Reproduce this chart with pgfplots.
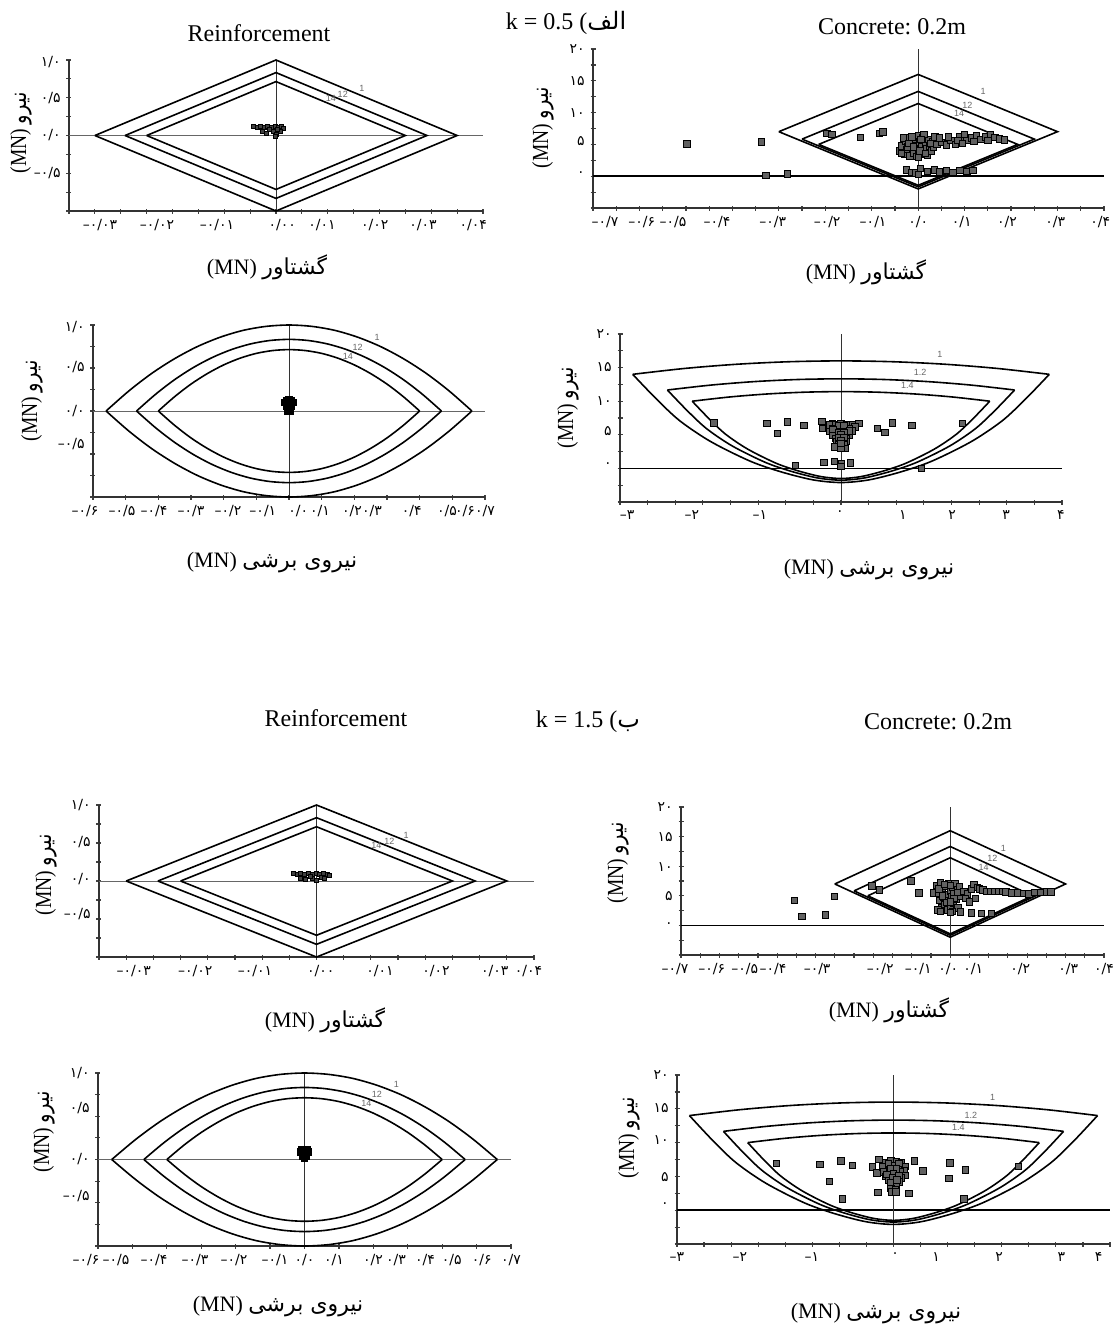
\documentclass[border=0pt]{standalone}
\usepackage{graphicx}
\usepackage{pgfplots}
\pgfplotsset{compat=1.18}
\usepackage{fontspec}
\setmainfont{Liberation Serif}
\newfontfamily\fa[Script=Arabic]{DejaVu Sans}
\newfontfamily\fadig{DejaVu Sans}
\newfontfamily\tinysans{Liberation Sans}
\TeXXeTstate=1
\frenchspacing

\tikzset{fsl/.style={font=\tinysans\fontsize{4.5}{5}\selectfont, text=black!60, inner sep=0pt}}
\pgfplotsset{
  panel/.style={
    scale only axis, anchor=south west,
    axis lines=left,
    axis line style={draw=black!80, line width=0.8pt, -},
    clip=false,
    scaled ticks=false,
    major tick length=0pt,
    minor tick length=2.5pt,
    tick align=center,
    minor tick style={draw=black!75, line width=0.6pt},
    xticklabel style={font=\fadig\fontsize{7}{8}\selectfont, inner sep=0pt, yshift=-4pt},
    yticklabel style={font=\fadig\fontsize{7}{8}\selectfont, inner sep=0pt, xshift=-4pt},
  },
  cap/.style={line width=0.8pt, black},
  zero/.style={line width=0.4pt, black!60},
  zerob/.style={line width=0.9pt, black},
  pts/.style={only marks, mark=square*, mark size=1.6pt, mark options={fill=black!62, draw=black, line width=0.35pt}},
  ptss/.style={only marks, mark=square*, mark size=1pt, mark options={fill=black!75, draw=black, line width=0.3pt}},
}

\begin{document}
\begin{tikzpicture}
\useasboundingbox (0,0) rectangle (556.5pt,-664.5pt);

% ---------------- Panel A: k=0.5, reinforcement, moment ----------------
\begin{axis}[panel, at={(34.5pt,-105.5pt)}, width=207pt, height=75.5pt,
  xmin=-0.04, xmax=0.04, ymin=-1, ymax=1,
  xtick={-0.0340,-0.0230,-0.0114,0.0012,0.0089,0.0191,0.0284,0.0381},
  xticklabels={–۰/۰۳,–۰/۰۲,–۰/۰۱,۰/۰۰,۰/۰۱,۰/۰۲,۰/۰۳,۰/۰۴},
  ytick={0.97,0.5,0,-0.5}, yticklabels={۱/۰,۰/۵,۰/۰,–۰/۵},
  minor xtick={-0.04,-0.035,...,0.0401}, minor ytick={-1,-0.75,...,1.01}]
\addplot[zero] coordinates {(-0.04,0) (0.04,0)};
\addplot[zero, black!80] coordinates {(0,-1) (0,1)};
\addplot[cap] coordinates {(-0.035,0) (0,1) (0.035,0) (0,-1) (-0.035,0)};
\addplot[cap] coordinates {(-0.02917,0) (0,0.8333) (0.02917,0) (0,-0.8333) (-0.02917,0)};
\addplot[cap] coordinates {(-0.025,0) (0,0.7143) (0.025,0) (0,-0.7143) (-0.025,0)};
\addplot[ptss] coordinates {(-0.0044,0.12) (-0.0037,0.11) (-0.0030,0.12) (-0.0023,0.11) (-0.0016,0.12) (-0.0009,0.11) (-0.0002,0.12) (0.0005,0.11) (0.0011,0.12) (0.0015,0.10) (-0.0027,0.05) (-0.0018,0.03) (-0.0006,0.05) (0.0001,0.02) (0.0008,0.06) (-0.0012,0.08) (0.0003,0.08) (-0.0001,-0.01)};
\node[fsl] at (axis cs:0.0166,0.63) {1};
\node[fsl] at (axis cs:0.0129,0.55) {12};
\node[fsl] at (axis cs:0.0106,0.49) {14};
\end{axis}

% ---------------- Panel B: k=0.5, concrete, moment ----------------
\begin{axis}[panel, at={(296.5pt,-104pt)}, width=255.5pt, height=79.5pt,
  xmin=-0.7, xmax=0.4, ymin=-5, ymax=20,
  xtick={-0.674,-0.595,-0.528,-0.433,-0.313,-0.196,-0.097,0,0.094,0.191,0.295,0.392},
  xticklabels={–۰/۷,–۰/۶,–۰/۵,–۰/۴,–۰/۳,–۰/۲,–۰/۱,۰/۰,۰/۱,۰/۲,۰/۳,۰/۴},
  ytick={20,15,10,5.6,0.3}, yticklabels={۲۰,۱۵,۱۰,۵,۰},
  minor xtick={-0.7,-0.65,...,0.401}, minor ytick={-5,-2.5,...,20.1}]
\addplot[zerob] coordinates {(-0.7,0) (0.4,0)};
\addplot[zero, black!80] coordinates {(0,-5) (0,20)};
\addplot[cap] coordinates {(-0.3,7) (0,16) (0.3,7) (0,-2) (-0.3,7)};
\addplot[cap] coordinates {(-0.25,5.833) (0,13.333) (0.25,5.833) (0,-1.667) (-0.25,5.833)};
\addplot[cap] coordinates {(-0.2143,5) (0,11.429) (0.2143,5) (0,-1.429) (-0.2143,5)};
\addplot[pts] coordinates {
(-0.498,5.1) (-0.337,5.4) (-0.328,0.1) (-0.281,0.4) (-0.197,6.7) (-0.186,6.6) (-0.125,6.1) (-0.083,6.7) (-0.076,7.0)
(-0.040,4.0) (-0.035,4.8) (-0.030,3.5) (-0.028,5.5) (-0.025,4.2) (-0.020,6.0) (-0.018,3.2) (-0.015,5.0) (-0.012,4.4) (-0.010,3.7) (-0.008,5.8) (-0.005,4.8) (-0.003,3.1) (0.0,6.4) (0.0,4.2) (0.003,5.3) (0.005,3.5) (0.008,4.6) (0.010,6.0) (0.012,3.9) (0.015,5.2) (0.018,4.4) (0.020,3.3) (0.022,5.8) (0.025,4.8) (0.028,4.0) (0.030,5.5) (0.033,4.5) (0.036,6.2) (0.040,5.0) (-0.032,6.0) (0.0,3.0) (0.012,6.6) (-0.022,4.6)
(-0.036,3.6) (-0.02,5.2) (-0.01,4.6) (0.004,4.0) (0.016,3.6) (0.026,5.2) (-0.014,6.2) (0.006,5.8)
(0.05,5.3) (0.06,4.9) (0.07,5.6) (0.08,5.0) (0.09,6.2) (0.10,6.6) (0.105,5.6) (0.115,6.0) (0.125,6.4) (0.135,5.8) (0.145,6.2) (0.155,6.5) (0.165,6.1) (0.175,5.9) (0.185,5.7) (0.065,6.2) (0.085,5.6) (0.045,6.0) (0.095,5.2) (0.12,5.5) (0.15,5.6)
(-0.026,1.0) (-0.015,0.6) (-0.005,0.5) (0.005,1.2) (0.02,0.8) (0.035,1.0) (0.06,0.9) (0.075,0.6) (0.09,0.9) (0.105,0.8) (0.118,0.9) (0.0,0.3) (0.045,0.7)};
\node[fsl] at (axis cs:0.14,13.3) {1};
\node[fsl] at (axis cs:0.106,11.2) {12};
\node[fsl] at (axis cs:0.088,9.8) {14};
\end{axis}

% ---------------- Panel C: k=0.5, reinforcement, shear ----------------
\begin{axis}[panel, at={(46.5pt,-248.5pt)}, width=196pt, height=86pt,
  xmin=-0.6, xmax=0.6, ymin=-1, ymax=1,
  xtick={-0.511,-0.413,-0.300,-0.187,-0.080,0.028,0.095,0.193,0.254,0.376,0.484,0.539,0.6},
  xticklabels={–۰/۵,–۰/۴,–۰/۳,–۰/۲,–۰/۱,۰/۰,۰/۱,۰/۲,۰/۳,۰/۴,۰/۵,۰/۶,۰/۷},
  extra x ticks={-0.6}, extra x tick labels={–۰/۶}, extra x tick style={xticklabel style={xshift=-4pt}},
  ytick={0.98,0.51,0,-0.38}, yticklabels={۱/۰,۰/۵,۰/۰,–۰/۵},
  minor xtick={-0.6,-0.5,...,0.61}, minor ytick={-1,-0.75,...,1.01}]
\addplot[zero] coordinates {(-0.6,0) (0.6,0)};
\addplot[zero, black!80] coordinates {(0,-1) (0,1)};
\addplot[cap, smooth] coordinates {(-0.56,0) (-0.49,0.234) (-0.42,0.438) (-0.35,0.609) (-0.28,0.75) (-0.21,0.859) (-0.14,0.938) (-0.07,0.984) (0,1) (0.07,0.984) (0.14,0.938) (0.21,0.859) (0.28,0.75) (0.35,0.609) (0.42,0.438) (0.49,0.234) (0.56,0)};
\addplot[cap, smooth] coordinates {(-0.56,0) (-0.49,-0.234) (-0.42,-0.438) (-0.35,-0.609) (-0.28,-0.75) (-0.21,-0.859) (-0.14,-0.938) (-0.07,-0.984) (0,-1) (0.07,-0.984) (0.14,-0.938) (0.21,-0.859) (0.28,-0.75) (0.35,-0.609) (0.42,-0.438) (0.49,-0.234) (0.56,0)};
\addplot[cap, smooth] coordinates {(-0.4667,0) (-0.4083,0.195) (-0.35,0.365) (-0.2917,0.508) (-0.2333,0.625) (-0.175,0.716) (-0.1167,0.781) (-0.0583,0.820) (0,0.833) (0.0583,0.820) (0.1167,0.781) (0.175,0.716) (0.2333,0.625) (0.2917,0.508) (0.35,0.365) (0.4083,0.195) (0.4667,0)};
\addplot[cap, smooth] coordinates {(-0.4667,0) (-0.4083,-0.195) (-0.35,-0.365) (-0.2917,-0.508) (-0.2333,-0.625) (-0.175,-0.716) (-0.1167,-0.781) (-0.0583,-0.820) (0,-0.833) (0.0583,-0.820) (0.1167,-0.781) (0.175,-0.716) (0.2333,-0.625) (0.2917,-0.508) (0.35,-0.365) (0.4083,-0.195) (0.4667,0)};
\addplot[cap, smooth] coordinates {(-0.4,0) (-0.35,0.167) (-0.3,0.313) (-0.25,0.435) (-0.2,0.536) (-0.15,0.614) (-0.1,0.670) (-0.05,0.703) (0,0.714) (0.05,0.703) (0.1,0.670) (0.15,0.614) (0.2,0.536) (0.25,0.435) (0.3,0.313) (0.35,0.167) (0.4,0)};
\addplot[cap, smooth] coordinates {(-0.4,0) (-0.35,-0.167) (-0.3,-0.313) (-0.25,-0.435) (-0.2,-0.536) (-0.15,-0.614) (-0.1,-0.670) (-0.05,-0.703) (0,-0.714) (0.05,-0.703) (0.1,-0.670) (0.15,-0.614) (0.2,-0.536) (0.25,-0.435) (0.3,-0.313) (0.35,-0.167) (0.4,0)};
\addplot[pts, mark options={fill=black}] coordinates {(0,0.13) (-0.008,0.12) (0.008,0.12) (-0.012,0.10) (0.012,0.10) (0,0.09) (-0.006,0.06) (0.006,0.06) (0,0.03) (0.005,0.0) (-0.005,0.0)};
\node[fsl] at (axis cs:0.27,0.86) {1};
\node[fsl] at (axis cs:0.21,0.74) {12};
\node[fsl] at (axis cs:0.18,0.64) {14};
\end{axis}

% ---------------- Panel D: k=0.5, concrete, shear ----------------
\begin{axis}[panel, at={(310pt,-251pt)}, width=221pt, height=84pt,
  xmin=-4, xmax=4, ymin=-5, ymax=20,
  xtick={-3.87,-2.70,-1.47,-0.02,1.12,2.01,2.99,3.98},
  xticklabels={–۳,–۲,–۱,۰,۱,۲,۳,۴},
  ytick={20,15.1,10,5.5,0.45}, yticklabels={۲۰,۱۵,۱۰,۵,۰},
  minor xtick={-4,-3.5,...,4.01}, minor ytick={-5,-2.5,...,20.1}]
\addplot[zerob] coordinates {(-4,0) (4,0)};
\addplot[zero, black!80] coordinates {(0,-5) (0,20)};
\addplot[cap, smooth] coordinates {(-3.77,14) (-2.83,14.875) (-1.885,15.5) (-0.94,15.875) (0,16) (0.94,15.875) (1.885,15.5) (2.83,14.875) (3.77,14)};
\addplot[cap, smooth] coordinates {(-3.77,14.0) (-3.35,10.4) (-2.92,7.1) (-2.36,4.0) (-1.65,1.1) (-1.09,-0.5) (-0.51,-1.7) (0,-2.1) (0.51,-1.7) (1.09,-0.5) (1.65,1.1) (2.36,4.0) (2.92,7.1) (3.35,10.4) (3.77,14.0)};
\addplot[cap, smooth] coordinates {(-3.142,11.667) (-2.358,12.396) (-1.571,12.917) (-0.783,13.229) (0,13.333) (0.783,13.229) (1.571,12.917) (2.358,12.396) (3.142,11.667)};
\addplot[cap, smooth] coordinates {(-3.142,11.667) (-2.792,8.667) (-2.433,5.917) (-1.967,3.333) (-1.375,0.917) (-0.908,-0.417) (-0.425,-1.417) (0,-1.75) (0.425,-1.417) (0.908,-0.417) (1.375,0.917) (1.967,3.333) (2.433,5.917) (2.792,8.667) (3.142,11.667)};
\addplot[cap, smooth] coordinates {(-2.693,10) (-2.021,10.625) (-1.346,11.071) (-0.671,11.339) (0,11.429) (0.671,11.339) (1.346,11.071) (2.021,10.625) (2.693,10)};
\addplot[cap, smooth] coordinates {(-2.693,10) (-2.393,7.429) (-2.086,5.071) (-1.686,2.857) (-1.179,0.786) (-0.779,-0.357) (-0.364,-1.214) (0,-1.5) (0.364,-1.214) (0.779,-0.357) (1.179,0.786) (1.686,2.857) (2.086,5.071) (2.393,7.429) (2.693,10)};
\addplot[pts] coordinates {
(-2.30,6.8) (-1.34,6.7) (-1.15,5.2) (-0.97,6.9) (-0.67,6.4) (-0.35,7.0) (-0.34,6.0) (-0.16,6.7) (-0.83,0.45) (-0.31,0.94) (-0.12,1.09) (0.17,0.8) (0.01,0.7) (0.32,6.7) (0.66,6.0) (0.79,5.4) (0.93,6.8) (1.28,6.4) (2.2,6.7) (1.45,0.05) (0.0,0.3)
(-0.2,6.5) (-0.1,6.6) (0.0,6.7) (0.1,6.6) (0.2,6.5) (0.25,6.2) (-0.15,6.0) (-0.05,6.1) (0.05,6.0) (0.15,6.0) (-0.2,5.5) (-0.1,5.5) (0.0,5.5) (0.1,5.5) (0.2,5.6) (-0.15,5.0) (-0.05,5.0) (0.05,5.0) (0.15,5.0) (-0.1,4.5) (0.0,4.5) (0.1,4.5) (-0.08,4.0) (0.02,4.0) (0.1,4.0) (-0.05,3.5) (0.05,3.5) (-0.12,3.2) (0.08,3.0) (0.0,3.0)
(-0.05,6.4) (0.05,6.4) (-0.15,5.8) (0.15,5.6) (-0.05,5.4) (0.05,5.4) (0.0,5.0) (-0.05,4.6) (0.05,4.6) (0.0,4.2) (0.0,3.7)};
\node[fsl] at (axis cs:1.79,16.9) {1};
\node[fsl] at (axis cs:1.43,14.3) {1.2};
\node[fsl] at (axis cs:1.2,12.4) {1.4};
\end{axis}

% ---------------- Panel E: k=1.5, reinforcement, moment ----------------
\begin{axis}[panel, at={(49.5pt,-478.5pt)}, width=217.5pt, height=76pt,
  xmin=-0.04, xmax=0.04, ymin=-1, ymax=1,
  xtick={-0.0336,-0.0223,-0.0113,0.0008,0.0117,0.0220,0.0328,0.0390},
  xticklabels={–۰/۰۳,–۰/۰۲,–۰/۰۱,۰/۰۰,۰/۰۱,۰/۰۲,۰/۰۳,۰/۰۴},
  ytick={1,0.51,0.02,-0.43}, yticklabels={۱/۰,۰/۵,۰/۰,–۰/۵},
  minor xtick={-0.04,-0.035,...,0.0401}, minor ytick={-1,-0.75,...,1.01}]
\addplot[zero] coordinates {(-0.04,0) (0.04,0)};
\addplot[zero, black!80] coordinates {(0,-1) (0,1)};
\addplot[cap] coordinates {(-0.035,0) (0,1) (0.035,0) (0,-1) (-0.035,0)};
\addplot[cap] coordinates {(-0.02917,0) (0,0.8333) (0.02917,0) (0,-0.8333) (-0.02917,0)};
\addplot[cap] coordinates {(-0.025,0) (0,0.7143) (0.025,0) (0,-0.7143) (-0.025,0)};
\addplot[ptss] coordinates {(-0.0043,0.10) (-0.0036,0.09) (-0.0029,0.10) (-0.0022,0.09) (-0.0015,0.10) (-0.0008,0.09) (-0.0001,0.10) (0.0006,0.09) (0.0013,0.10) (0.0020,0.09) (0.0023,0.08) (-0.0030,0.04) (-0.0020,0.02) (-0.0008,0.04) (0.0,0.01) (0.0008,0.05) (0.0015,0.03) (-0.0012,0.06)};
\node[fsl] at (axis cs:0.0165,0.60) {1};
\node[fsl] at (axis cs:0.0134,0.52) {12};
\node[fsl] at (axis cs:0.0110,0.47) {14};
\end{axis}

% ---------------- Panel F: k=1.5, concrete, moment ----------------
\begin{axis}[panel, at={(340.5pt,-477.5pt)}, width=211.5pt, height=74pt,
  xmin=-0.7, xmax=0.4, ymin=-5, ymax=20,
  xtick={-0.620,-0.534,-0.461,-0.346,-0.182,-0.083,-0.005,0.060,0.182,0.307,0.4},
  xticklabels={–۰/۶,–۰/۵,–۰/۴,–۰/۳,–۰/۲,–۰/۱,۰/۰,۰/۱,۰/۲,۰/۳,۰/۴},
  extra x ticks={-0.7}, extra x tick labels={–۰/۷}, extra x tick style={xticklabel style={xshift=-3pt}},
  ytick={20,14.9,9.8,4.9,0}, yticklabels={۲۰,۱۵,۱۰,۵,۰},
  minor xtick={-0.7,-0.65,...,0.401}, minor ytick={-5,-2.5,...,20.1}]
\addplot[zerob] coordinates {(-0.7,0) (0.4,0)};
\addplot[zero, black!80] coordinates {(0,-5) (0,20)};
\addplot[cap] coordinates {(-0.3,7) (0,16) (0.3,7) (0,-2) (-0.3,7)};
\addplot[cap] coordinates {(-0.25,5.833) (0,13.333) (0.25,5.833) (0,-1.667) (-0.25,5.833)};
\addplot[cap] coordinates {(-0.2143,5) (0,11.429) (0.2143,5) (0,-1.429) (-0.2143,5)};
\addplot[pts] coordinates {
(-0.406,4.2) (-0.386,1.5) (-0.325,1.8) (-0.301,4.9) (-0.204,6.7) (-0.184,6.0) (-0.102,7.5) (-0.082,5.5) (-0.043,5.5)
(-0.035,6.8) (-0.03,5.5) (-0.028,4.2) (-0.025,7.2) (-0.022,3.0) (-0.02,6.0) (-0.018,4.8) (-0.015,3.6) (-0.012,6.6) (-0.01,5.2) (-0.008,2.6) (-0.005,4.2) (-0.003,7.0) (0.0,5.8) (0.0,3.2) (0.003,4.8) (0.005,6.4) (0.008,3.8) (0.01,5.4) (0.012,7.0) (0.015,4.4) (0.018,6.0) (0.02,3.0) (0.022,5.0) (0.024,6.6) (-0.032,2.6) (0.006,2.4)
(-0.03,6.2) (-0.02,5.0) (-0.01,3.9) (0.0,6.8) (0.01,4.6) (0.02,5.6) (-0.015,6.9) (0.0,4.0)
(0.035,5.8) (0.045,5.3) (0.055,6.2) (0.062,6.9) (0.070,6.4) (0.076,6.2) (0.085,6.0) (0.095,5.8) (0.105,5.8) (0.115,5.8) (0.125,5.8) (0.135,5.8) (0.145,5.7) (0.16,5.5) (0.175,5.5) (0.19,5.4) (0.205,5.3) (0.22,5.6) (0.235,5.6) (0.25,5.7) (0.262,5.7) (0.04,4.6) (0.05,4.0) (0.065,4.6)
(-0.026,2.4) (0.0,2.2) (0.026,2.3) (0.055,2.1) (0.081,2.0) (0.107,2.0)};
\node[fsl] at (axis cs:0.138,13.0) {1};
\node[fsl] at (axis cs:0.11,11.4) {12};
\node[fsl] at (axis cs:0.087,9.8) {14};
\end{axis}

% ---------------- Panel G: k=1.5, reinforcement, shear ----------------
\begin{axis}[panel, at={(49pt,-623pt)}, width=206.5pt, height=86.5pt,
  xmin=-0.6, xmax=0.6, ymin=-1, ymax=1,
  xtick={-0.548,-0.437,-0.318,-0.205,-0.086,0.0,0.086,0.199,0.266,0.350,0.428,0.515,0.6},
  xticklabels={–۰/۵,–۰/۴,–۰/۳,–۰/۲,–۰/۱,۰/۰,۰/۱,۰/۲,۰/۳,۰/۴,۰/۵,۰/۶,۰/۷},
  extra x ticks={-0.6}, extra x tick labels={–۰/۶}, extra x tick style={xticklabel style={xshift=-6pt}},
  ytick={1,0.59,0,-0.42}, yticklabels={۱/۰,۰/۵,۰/۰,–۰/۵},
  minor xtick={-0.6,-0.5,...,0.61}, minor ytick={-1,-0.75,...,1.01}]
\addplot[zero] coordinates {(-0.6,0) (0.6,0)};
\addplot[zero, black!80] coordinates {(0,-1) (0,1)};
\addplot[cap, smooth] coordinates {(-0.56,0) (-0.49,0.234) (-0.42,0.438) (-0.35,0.609) (-0.28,0.75) (-0.21,0.859) (-0.14,0.938) (-0.07,0.984) (0,1) (0.07,0.984) (0.14,0.938) (0.21,0.859) (0.28,0.75) (0.35,0.609) (0.42,0.438) (0.49,0.234) (0.56,0)};
\addplot[cap, smooth] coordinates {(-0.56,0) (-0.49,-0.234) (-0.42,-0.438) (-0.35,-0.609) (-0.28,-0.75) (-0.21,-0.859) (-0.14,-0.938) (-0.07,-0.984) (0,-1) (0.07,-0.984) (0.14,-0.938) (0.21,-0.859) (0.28,-0.75) (0.35,-0.609) (0.42,-0.438) (0.49,-0.234) (0.56,0)};
\addplot[cap, smooth] coordinates {(-0.4667,0) (-0.4083,0.195) (-0.35,0.365) (-0.2917,0.508) (-0.2333,0.625) (-0.175,0.716) (-0.1167,0.781) (-0.0583,0.820) (0,0.833) (0.0583,0.820) (0.1167,0.781) (0.175,0.716) (0.2333,0.625) (0.2917,0.508) (0.35,0.365) (0.4083,0.195) (0.4667,0)};
\addplot[cap, smooth] coordinates {(-0.4667,0) (-0.4083,-0.195) (-0.35,-0.365) (-0.2917,-0.508) (-0.2333,-0.625) (-0.175,-0.716) (-0.1167,-0.781) (-0.0583,-0.820) (0,-0.833) (0.0583,-0.820) (0.1167,-0.781) (0.175,-0.716) (0.2333,-0.625) (0.2917,-0.508) (0.35,-0.365) (0.4083,-0.195) (0.4667,0)};
\addplot[cap, smooth] coordinates {(-0.4,0) (-0.35,0.167) (-0.3,0.313) (-0.25,0.435) (-0.2,0.536) (-0.15,0.614) (-0.1,0.670) (-0.05,0.703) (0,0.714) (0.05,0.703) (0.1,0.670) (0.15,0.614) (0.2,0.536) (0.25,0.435) (0.3,0.313) (0.35,0.167) (0.4,0)};
\addplot[cap, smooth] coordinates {(-0.4,0) (-0.35,-0.167) (-0.3,-0.313) (-0.25,-0.435) (-0.2,-0.536) (-0.15,-0.614) (-0.1,-0.670) (-0.05,-0.703) (0,-0.714) (0.05,-0.703) (0.1,-0.670) (0.15,-0.614) (0.2,-0.536) (0.25,-0.435) (0.3,-0.313) (0.35,-0.167) (0.4,0)};
\addplot[pts, mark options={fill=black}] coordinates {(0,0.11) (-0.008,0.11) (0.008,0.11) (-0.012,0.09) (0.012,0.09) (0,0.07) (-0.005,0.04) (0.005,0.04) (0,0.01)};
\node[fsl] at (axis cs:0.267,0.87) {1};
\node[fsl] at (axis cs:0.21,0.75) {12};
\node[fsl] at (axis cs:0.18,0.65) {14};
\end{axis}

% ---------------- Panel H: k=1.5, concrete, shear ----------------
\begin{axis}[panel, at={(338.5pt,-622pt)}, width=216.5pt, height=84.5pt,
  xmin=-4, xmax=4, ymin=-5, ymax=20,
  xtick={-4,-2.84,-1.51,0.03,0.79,1.95,3.10,3.79},
  xticklabels={–۳,–۲,–۱,۰,۱,۲,۳,۴},
  ytick={20,15.1,10.4,4.9,0.7}, yticklabels={۲۰,۱۵,۱۰,۵,۰},
  minor xtick={-4,-3.5,...,4.01}, minor ytick={-5,-2.5,...,20.1}]
\addplot[zerob] coordinates {(-4,0) (4,0)};
\addplot[zero, black!80] coordinates {(0,-5) (0,20)};
\addplot[cap, smooth] coordinates {(-3.77,14) (-2.83,14.875) (-1.885,15.5) (-0.94,15.875) (0,16) (0.94,15.875) (1.885,15.5) (2.83,14.875) (3.77,14)};
\addplot[cap, smooth] coordinates {(-3.77,14.0) (-3.35,10.4) (-2.92,7.1) (-2.36,4.0) (-1.65,1.1) (-1.09,-0.5) (-0.51,-1.7) (0,-2.1) (0.51,-1.7) (1.09,-0.5) (1.65,1.1) (2.36,4.0) (2.92,7.1) (3.35,10.4) (3.77,14.0)};
\addplot[cap, smooth] coordinates {(-3.142,11.667) (-2.358,12.396) (-1.571,12.917) (-0.783,13.229) (0,13.333) (0.783,13.229) (1.571,12.917) (2.358,12.396) (3.142,11.667)};
\addplot[cap, smooth] coordinates {(-3.142,11.667) (-2.792,8.667) (-2.433,5.917) (-1.967,3.333) (-1.375,0.917) (-0.908,-0.417) (-0.425,-1.417) (0,-1.75) (0.425,-1.417) (0.908,-0.417) (1.375,0.917) (1.967,3.333) (2.433,5.917) (2.792,8.667) (3.142,11.667)};
\addplot[cap, smooth] coordinates {(-2.693,10) (-2.021,10.625) (-1.346,11.071) (-0.671,11.339) (0,11.429) (0.671,11.339) (1.346,11.071) (2.021,10.625) (2.693,10)};
\addplot[cap, smooth] coordinates {(-2.693,10) (-2.393,7.429) (-2.086,5.071) (-1.686,2.857) (-1.179,0.786) (-0.779,-0.357) (-0.364,-1.214) (0,-1.5) (0.364,-1.214) (0.779,-0.357) (1.179,0.786) (1.686,2.857) (2.086,5.071) (2.393,7.429) (2.693,10)};
\addplot[pts] coordinates {
(-2.17,6.9) (-1.36,6.8) (-1.18,4.3) (-0.97,7.3) (-0.76,6.6) (-0.95,1.7) (-0.39,6.4) (-0.31,5.5) (-0.27,7.5) (-0.29,2.6) (0.28,2.5) (0.38,7.3) (0.54,5.8) (1.04,7.0) (1.02,4.7) (1.33,6.0) (1.30,1.7) (2.31,6.5)
(-0.15,7.0) (-0.05,7.3) (0.05,7.2) (0.15,7.0) (0.22,6.5) (-0.2,6.4) (-0.1,6.5) (0.0,6.6) (0.1,6.4) (0.2,5.8) (-0.18,5.7) (-0.08,5.8) (0.02,5.9) (0.12,5.7) (0.22,5.2) (-0.15,5.0) (-0.05,5.1) (0.05,5.0) (0.15,4.8) (-0.1,4.4) (0.0,4.4) (0.1,4.2) (-0.05,3.8) (0.05,3.7) (-0.05,3.2) (0.03,3.0) (-0.04,2.7) (0.04,2.7)
(-0.1,6.9) (0.1,6.9) (-0.05,6.2) (0.05,6.1) (-0.12,5.3) (0.0,5.4) (0.1,5.2) (-0.02,4.8) (0.06,4.5) (-0.06,4.1)};
\node[fsl] at (axis cs:1.83,16.7) {1};
\node[fsl] at (axis cs:1.43,14.1) {1.2};
\node[fsl] at (axis cs:1.2,12.3) {1.4};
\end{axis}

% ---------------- Titles and axis labels ----------------
\begin{scope}[x=0.5pt,y=-0.5pt]
\tikzset{ttl/.style={font=\fontsize{12}{14}\selectfont, inner sep=0pt},
         xl/.style={font=\fontsize{11}{13}\selectfont, inner sep=0pt},
         yl/.style={font=\fontsize{11.5}{13}\selectfont, inner sep=0pt, rotate=90}}
\node[ttl] at (259,33) {Reinforcement};
\node[ttl] at (566,23) {k = 0.5 ({\fa\beginR الف\endR}};
\node[ttl] at (892,27) {Concrete: 0.2m};
\node[ttl] at (336,718) {Reinforcement};
\node[ttl] at (588,722) {k = 1.5 ({\fa\beginR ب\endR}};
\node[ttl] at (938,722) {Concrete: 0.2m};

\node[xl] at (267,267) {(MN)\ {\fa\beginR گشتاور\endR}};
\node[xl] at (866,272) {(MN)\ {\fa\beginR گشتاور\endR}};
\node[xl] at (272,563) {(MN)\ {\fa\beginR نیروی برشی\endR}};
\node[xl] at (869,570) {(MN)\ {\fa\beginR نیروی برشی\endR}};
\node[xl] at (325,1020) {(MN)\ {\fa\beginR گشتاور\endR}};
\node[xl] at (889,1010) {(MN)\ {\fa\beginR گشتاور\endR}};
\node[xl] at (278,1307) {(MN)\ {\fa\beginR نیروی برشی\endR}};
\node[xl] at (876,1314) {(MN)\ {\fa\beginR نیروی برشی\endR}};

\node[yl] at (21,133) {\scalebox{0.85}[1]{(MN)\ {\fa\beginR نیرو\endR}}};
\node[yl] at (543,128) {\scalebox{0.85}[1]{(MN)\ {\fa\beginR نیرو\endR}}};
\node[yl] at (32,401) {\scalebox{0.85}[1]{(MN)\ {\fa\beginR نیرو\endR}}};
\node[yl] at (568,408) {\scalebox{0.85}[1]{(MN)\ {\fa\beginR نیرو\endR}}};
\node[yl] at (46,875) {\scalebox{0.85}[1]{(MN)\ {\fa\beginR نیرو\endR}}};
\node[yl] at (618,863) {\scalebox{0.85}[1]{(MN)\ {\fa\beginR نیرو\endR}}};
\node[yl] at (44,1132) {\scalebox{0.85}[1]{(MN)\ {\fa\beginR نیرو\endR}}};
\node[yl] at (629,1138) {\scalebox{0.85}[1]{(MN)\ {\fa\beginR نیرو\endR}}};
\end{scope}
\end{tikzpicture}
\end{document}
